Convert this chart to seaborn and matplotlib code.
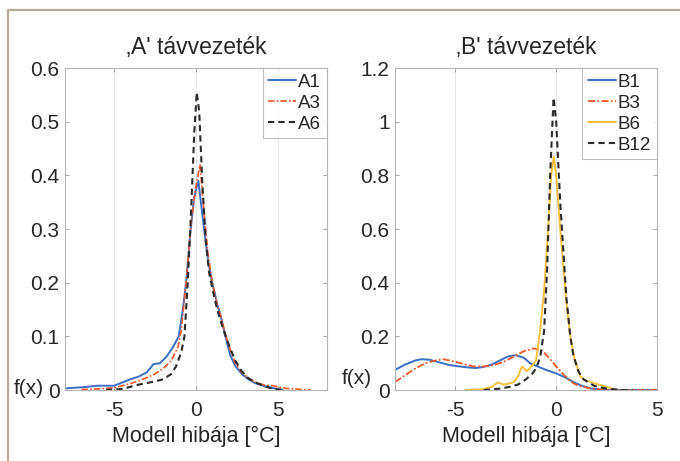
import numpy as np
import pandas as pd
import matplotlib
matplotlib.use("Agg")
import matplotlib.pyplot as plt
from matplotlib.lines import Line2D
from matplotlib.ticker import FuncFormatter
import seaborn as sns

# ---- data ----
A1_x = [-8, -7, -6, -5, -4.5, -4, -3.5, -3, -2.6, -2.2, -1.8, -1.4, -1.05, -0.8, -0.6, -0.32, -0.1, 0.15,
        0.5, 0.75, 1.0, 1.3, 1.5, 1.8, 2.1, 2.4, 2.8, 3.2, 3.6, 4.2, 4.8, 5.3]
A1_y = [0.003, 0.005, 0.008, 0.008, 0.014, 0.02, 0.025, 0.033, 0.048, 0.05, 0.062, 0.08, 0.1, 0.15, 0.2, 0.3, 0.36, 0.39,
        0.3, 0.24, 0.2, 0.16, 0.14, 0.1, 0.065, 0.045, 0.03, 0.02, 0.013, 0.007, 0.003, 0.0]

A3_x = [-7, -6, -5, -4.5, -4, -3.5, -3, -2.5, -2, -1.5, -1.1, -0.9, -0.6, -0.3, 0.0, 0.25,
        0.5, 0.75, 1.0, 1.3, 1.5, 1.8, 2.1, 2.4, 2.8, 3.2, 3.6, 4.2, 4.7, 5.0, 5.5, 6.0, 7.0]
A3_y = [0.001, 0.002, 0.004, 0.008, 0.012, 0.017, 0.023, 0.03, 0.04, 0.055, 0.08, 0.11, 0.2, 0.31, 0.38, 0.42,
        0.33, 0.25, 0.2, 0.16, 0.14, 0.105, 0.075, 0.05, 0.033, 0.022, 0.015, 0.009, 0.008, 0.006, 0.003, 0.002, 0.0]

A6_x = [-5.5, -4.5, -4, -3.5, -3, -2.5, -2, -1.5, -1.2, -0.9, -0.7, -0.5, -0.3, -0.1, 0.05,
        0.2, 0.4, 0.6, 0.8, 1.0, 1.3, 1.6, 2.0, 2.4, 2.8, 3.2, 3.8, 4.4, 5.0, 5.5]
A6_y = [0.0, 0.002, 0.006, 0.01, 0.013, 0.016, 0.02, 0.03, 0.045, 0.07, 0.1, 0.2, 0.33, 0.48, 0.555,
        0.52, 0.38, 0.28, 0.22, 0.19, 0.15, 0.12, 0.085, 0.055, 0.035, 0.022, 0.012, 0.005, 0.001, 0.0]

B1_x = [-8, -7.5, -7, -6.7, -6.3, -5.8, -5.3, -5, -4.5, -4, -3.6, -3.2, -2.8, -2.4, -2.0, -1.6, -1.3,
        -1.0, -0.5, 0, 0.5, 0.85, 1.2, 1.7, 2.2, 2.5, 3.5, 5]
B1_y = [0.075, 0.095, 0.11, 0.115, 0.113, 0.103, 0.093, 0.09, 0.085, 0.082, 0.086, 0.095, 0.11, 0.125, 0.13, 0.12, 0.1,
        0.09, 0.075, 0.062, 0.045, 0.03, 0.018, 0.006, 0.002, 0.0, 0.0, 0.0]

B3_x = [-8, -7.4, -7, -6.5, -6, -5.6, -5, -4.5, -4.1, -3.6, -3.1, -2.6, -2.1, -1.6, -1.1, -0.8, -0.6,
        -0.3, 0, 0.4, 0.85, 1.2, 1.7, 2.2, 3, 5]
B3_y = [0.03, 0.06, 0.08, 0.1, 0.11, 0.115, 0.105, 0.095, 0.088, 0.088, 0.093, 0.105, 0.125, 0.145, 0.155, 0.15, 0.14,
        0.115, 0.088, 0.055, 0.025, 0.014, 0.006, 0.002, 0.0, 0.0]

B6_x = [-4.5, -3.6, -3.2, -2.9, -2.6, -2.3, -2.1, -1.9, -1.7, -1.45, -1.2, -1.0, -0.8, -0.6, -0.4, -0.25, -0.12,
        0.0, 0.2, 0.5, 0.7, 0.9, 1.2, 1.5, 1.9, 2.5, 3.0]
B6_y = [0.0, 0.003, 0.012, 0.028, 0.02, 0.025, 0.03, 0.05, 0.088, 0.07, 0.09, 0.11, 0.22, 0.37, 0.6, 0.8, 0.87,
        0.8, 0.6, 0.33, 0.2, 0.12, 0.05, 0.035, 0.025, 0.012, 0.0]

B12_x = [-3.6, -2.8, -2.3, -1.9, -1.5, -1.2, -1.0, -0.8, -0.6, -0.45, -0.3, -0.13,
         0.0, 0.2, 0.5, 0.7, 0.85, 1.1, 1.35, 1.9, 2.5, 3.3, 3.8]
B12_y = [0.0, 0.005, 0.012, 0.02, 0.04, 0.06, 0.08, 0.12, 0.22, 0.45, 0.8, 1.09,
         1.0, 0.7, 0.35, 0.2, 0.13, 0.07, 0.04, 0.015, 0.005, 0.0, 0.0]

BLUE, ORANGE, YELLOW, BLACK = "#3a6fc4", "#f0592a", "#f5c040", "#2a2a2a"
TXT = "#262626"

sns.set_theme(style="white")
plt.rcParams['font.family'] = ['Liberation Sans', 'DejaVu Sans']
plt.rcParams['axes.unicode_minus'] = False
plt.rcParams['text.color'] = TXT

fig = plt.figure(figsize=(6.8, 4.61), dpi=100)
axA = fig.add_axes([0.0956, 0.154, 0.385, 0.698])
axB = fig.add_axes([0.581, 0.154, 0.385, 0.698])

def draw(ax, series):
    for x, y, col, ls, lw, lab in series:
        sns.lineplot(x=x, y=y, ax=ax, color=col, linestyle=ls, linewidth=lw,
                     label=lab, sort=False, estimator=None)

draw(axA, [(A1_x, A1_y, BLUE, "-", 1.4, "A1"),
           (A3_x, A3_y, ORANGE, (0, (4, 1.2, 1, 1.2)), 1.2, "A3"),
           (A6_x, A6_y, BLACK, (0, (3, 2)), 1.5, "A6")])
draw(axB, [(B1_x, B1_y, BLUE, "-", 1.4, "B1"),
           (B3_x, B3_y, ORANGE, (0, (4, 1.2, 1, 1.2)), 1.3, "B3"),
           (B6_x, B6_y, YELLOW, "-", 1.4, "B6"),
           (B12_x, B12_y, BLACK, (0, (3, 2)), 1.5, "B12")])

fmt = FuncFormatter(lambda v, p: f"{v:g}")
for ax, xl, yl, yt, title in [(axA, (-8, 8), (0, 0.6), np.arange(0, 0.61, 0.1), "‚A' távvezeték"),
                              (axB, (-8, 5), (0, 1.2), np.arange(0, 1.21, 0.2), "‚B' távvezeték")]:
    ax.set_xlim(*xl)
    ax.set_ylim(*yl)
    ax.set_xticks([-5, 0, 5])
    ax.set_yticks(yt)
    ax.xaxis.set_major_formatter(fmt)
    ax.yaxis.set_major_formatter(fmt)
    ax.tick_params(direction="in", length=3, width=0.6, color="#999999",
                   top=True, right=True, bottom=True, left=True,
                   labelsize=15, labelcolor=TXT)
    ax.tick_params(axis="x", pad=8)
    ax.tick_params(axis="y", pad=4)
    ax.grid(axis="x", color="#e6e6e6", linewidth=0.7)
    ax.grid(axis="y", visible=False)
    for s in ax.spines.values():
        s.set_color("#b5b5b5")
        s.set_linewidth(0.8)
    ax.set_title(title, fontsize=16.5, color=TXT, pad=10)
    ax.set_xlabel("Modell hibája [°C]", fontsize=15.5, color=TXT, labelpad=4)
    ax.set_ylabel("")
    leg = ax.legend(loc="upper right", fontsize=13.5, frameon=True, fancybox=False,
                    borderaxespad=0, handlelength=1.5, handletextpad=0.1,
                    labelspacing=0.2, borderpad=0.3)
    leg.get_frame().set_edgecolor("#b0b0b0")
    leg.get_frame().set_linewidth(0.8)
    for t in leg.get_texts():
        t.set_color(TXT)

# horizontal f(x) labels next to the zero ticks
fig.text(0.0645, 0.158, "f(x)", fontsize=15, color=TXT, va="center", ha="right")
fig.text(0.503, 0.178, "f(x)", fontsize=15, color=TXT, va="center", ha="left")

# scanned frame lines
fig.add_artist(Line2D([0.0118, 1.0], [0.978, 0.978], color="#b3ad98", linewidth=1.6,
                      transform=fig.transFigure))
fig.add_artist(Line2D([0.0118, 0.0118], [0.0, 0.978], color="#b3ad98", linewidth=1.6,
                      transform=fig.transFigure))

fig.savefig("out.png", dpi=100)
